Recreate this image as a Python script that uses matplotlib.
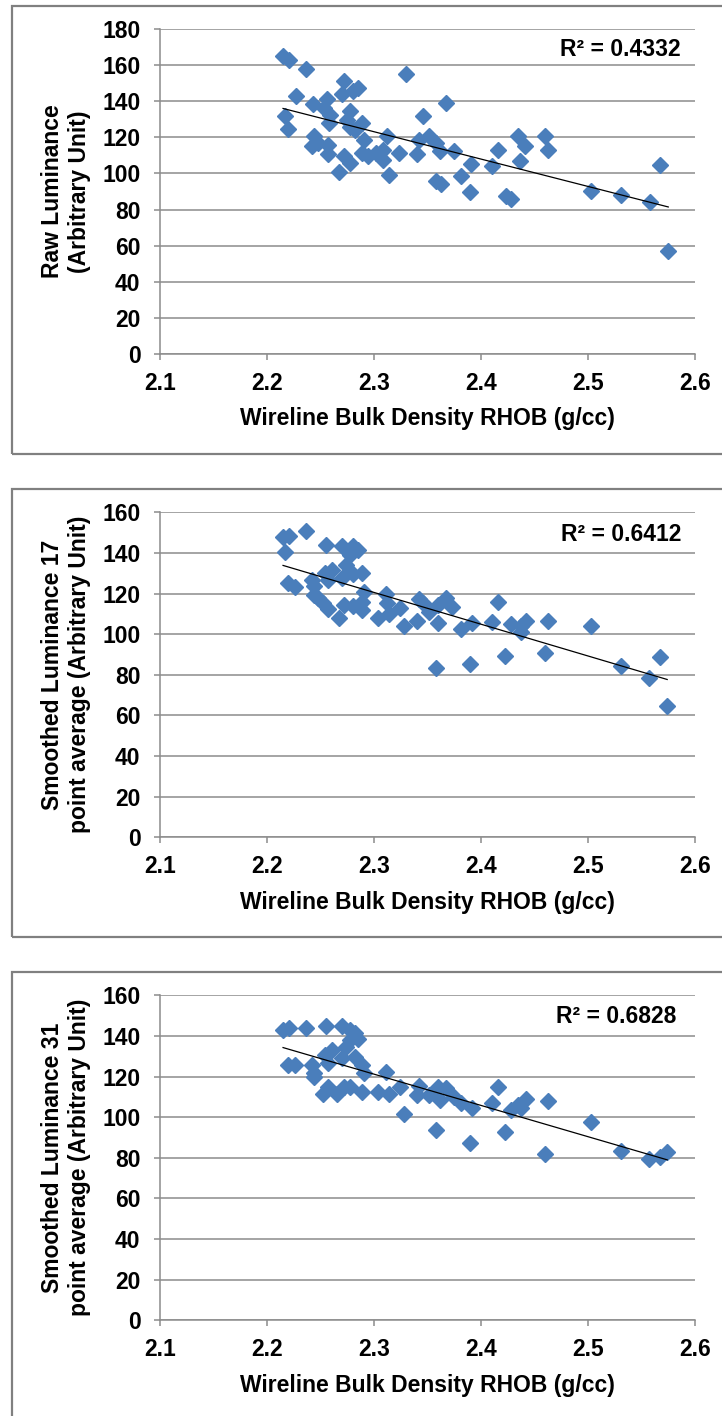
import numpy as np
import matplotlib
matplotlib.use("Agg")
import matplotlib.pyplot as plt
from matplotlib.patches import Rectangle

plt.rcParams['font.family'] = ['Liberation Sans', 'DejaVu Sans']

# ---------------- data ----------------
x_raw = [2.215, 2.221, 2.236, 2.330, 2.272, 2.285, 2.280, 2.270, 2.227, 2.256,
         2.367, 2.243, 2.278, 2.253, 2.217, 2.346, 2.259, 2.258, 2.275, 2.289,
         2.278, 2.220, 2.282, 2.244, 2.312, 2.351, 2.435, 2.460, 2.291, 2.342,
         2.358, 2.248, 2.257, 2.242, 2.441, 2.416, 2.463, 2.308, 2.375, 2.362,
         2.323, 2.289, 2.302, 2.257, 2.340, 2.294, 2.272, 2.308, 2.436, 2.278,
         2.391, 2.410, 2.567, 2.267, 2.314, 2.381, 2.358, 2.363, 2.390, 2.503,
         2.423, 2.428, 2.531, 2.558, 2.575]
y_raw = [165.2, 163.0, 158.0, 155.3, 151.4, 147.3, 145.5, 144.0, 143.1, 141.2,
         139.0, 138.5, 134.8, 136.0, 131.6, 132.0, 132.5, 128.0, 129.8, 128.0,
         125.5, 124.6, 123.9, 120.6, 120.6, 120.6, 120.6, 120.6, 118.3, 118.3,
         116.9, 116.9, 116.0, 115.0, 115.0, 113.2, 113.2, 113.2, 112.2, 112.2,
         111.3, 111.3, 111.3, 111.0, 111.0, 109.5, 109.5, 107.6, 106.7, 105.8,
         105.2, 104.3, 104.5, 100.6, 99.3, 98.4, 96.0, 94.2, 89.5, 90.1,
         87.3, 85.8, 87.9, 84.0, 57.2]

x_s17 = [2.236, 2.215, 2.221, 2.217, 2.255, 2.270, 2.280, 2.285, 2.278, 2.274,
         2.261, 2.254, 2.289, 2.280, 2.270, 2.257, 2.242, 2.244, 2.220, 2.226,
         2.291, 2.311, 2.244, 2.248, 2.342, 2.367, 2.416, 2.289, 2.272, 2.280,
         2.252, 2.312, 2.346, 2.360, 2.373, 2.324, 2.257, 2.289, 2.351, 2.314,
         2.304, 2.267, 2.463, 2.410, 2.442, 2.340, 2.392, 2.360, 2.428, 2.503,
         2.328, 2.437, 2.381, 2.437, 2.460, 2.422, 2.567, 2.390, 2.531, 2.358,
         2.557, 2.574]
y_s17 = [150.8, 148.0, 148.3, 140.3, 143.9, 143.6, 143.6, 141.5, 139.0, 134.0,
         131.6, 130.0, 130.0, 129.5, 127.5, 126.7, 126.7, 123.9, 125.0, 123.4,
         121.0, 120.0, 119.3, 117.7, 117.3, 117.7, 116.0, 116.0, 114.4, 114.0,
         115.2, 115.2, 115.2, 114.4, 113.6, 112.7, 112.4, 111.9, 111.1, 109.8,
         108.1, 107.8, 106.7, 106.2, 106.7, 106.7, 105.4, 105.4, 104.9, 104.2,
         104.0, 104.2, 102.6, 101.2, 90.9, 89.4, 88.6, 85.2, 84.5, 83.2,
         78.6, 64.8]

x_s31 = [2.215, 2.221, 2.236, 2.255, 2.270, 2.278, 2.282, 2.285, 2.278, 2.274,
         2.261, 2.254, 2.270, 2.282, 2.289, 2.257, 2.220, 2.226, 2.242, 2.244,
         2.291, 2.311, 2.244, 2.416, 2.257, 2.272, 2.278, 2.342, 2.360, 2.367,
         2.324, 2.289, 2.304, 2.314, 2.252, 2.265, 2.340, 2.351, 2.362, 2.375,
         2.381, 2.442, 2.463, 2.410, 2.392, 2.428, 2.437, 2.435, 2.503, 2.328,
         2.358, 2.422, 2.390, 2.531, 2.460, 2.557, 2.567, 2.574]
y_s31 = [142.9, 143.7, 143.7, 144.9, 144.9, 142.9, 141.3, 138.3, 138.0, 134.7,
         133.1, 130.6, 129.0, 129.5, 125.7, 126.5, 125.7, 125.7, 125.7, 121.6,
         121.9, 122.4, 120.0, 114.7, 115.0, 115.0, 114.7, 115.4, 115.0, 114.2,
         115.0, 112.6, 112.6, 111.4, 111.4, 111.4, 110.9, 110.9, 108.5, 109.8,
         106.8, 108.8, 108.1, 106.8, 104.4, 103.5, 104.4, 106.0, 97.8, 101.4,
         93.7, 92.5, 87.1, 83.4, 81.7, 79.4, 80.6, 83.0]

ylabels = ["Raw Luminance\n(Arbitrary Unit)",
           "Smoothed Luminance 17\npoint average (Arbitrary Unit)",
           "Smoothed Luminance 31\npoint average (Arbitrary Unit)"]
r2_texts = ["R² = 0.4332", "R² = 0.6412", "R² = 0.6828"]
ymaxes = [180, 160, 160]
x_ticks = [2.1, 2.2, 2.3, 2.4, 2.5, 2.6]

# ---------------- layout ----------------
W, H = 722, 1416
fig = plt.figure(figsize=(W / 100, H / 100), dpi=100)

ax_left, ax_right = 160, 695
ax_tops = [29, 512.3, 995.3]
ax_bottoms = [354, 837.3, 1320.3]
box_tops = [6, 489, 971.7]
box_bottoms = [454.3, 936.7, 1425]
r2_pos = [(0.974, 0.938), (0.974, 0.932), (0.966, 0.934)]

blue = '#4A7EBB'
grid_col = '#8C8C8C'
FS = 16.5

for i, (xs, ys) in enumerate([(x_raw, y_raw), (x_s17, y_s17), (x_s31, y_s31)]):
    # outer box
    fig.patches.append(Rectangle((12 / W, 1 - box_bottoms[i] / H),
                                 (W + 20 - 12) / W, (box_bottoms[i] - box_tops[i]) / H,
                                 transform=fig.transFigure, fill=False,
                                 edgecolor='#808080', linewidth=1.6, zorder=0))
    hpx = ax_bottoms[i] - ax_tops[i]
    ax = fig.add_axes([ax_left / W, 1 - ax_bottoms[i] / H,
                       (ax_right - ax_left) / W, hpx / H])
    ax.set_xlim(2.1, 2.6)
    ax.set_ylim(0, ymaxes[i])
    ax.set_xticks(x_ticks)
    ax.set_xticklabels([f"{t:.1f}" for t in x_ticks])
    ax.set_yticks(np.arange(0, ymaxes[i] + 1, 20))
    ax.yaxis.grid(True, color=grid_col, linewidth=1.1)
    ax.set_axisbelow(True)
    for s in ['top', 'right']:
        ax.spines[s].set_visible(False)
    for s in ['left', 'bottom']:
        ax.spines[s].set_color(grid_col)
        ax.spines[s].set_linewidth(1.1)
    ax.tick_params(axis='both', direction='out', length=4, width=1.1,
                   color=grid_col, labelsize=FS)
    ax.tick_params(axis='x', pad=9)
    ax.tick_params(axis='y', pad=10)
    for lab in ax.get_xticklabels() + ax.get_yticklabels():
        lab.set_fontweight('bold')

    ax.plot(xs, ys, linestyle='none', marker='D', ms=8.3, color=blue,
            markeredgecolor=blue, zorder=3, clip_on=False)

    coef = np.polyfit(xs, ys, 1)
    xx = np.array([min(xs), max(xs)])
    ax.plot(xx, np.polyval(coef, xx), color='black', linewidth=0.9, zorder=4)

    ax.text(r2_pos[i][0], r2_pos[i][1], r2_texts[i], transform=ax.transAxes,
            ha='right', va='center', fontsize=FS, fontweight='bold')

    ax.set_xlabel("Wireline Bulk Density RHOB (g/cc)", fontsize=FS,
                  fontweight='bold', va='center')
    ax.xaxis.set_label_coords(0.5, -65 / hpx)
    ax.set_ylabel(ylabels[i], fontsize=FS, fontweight='bold', linespacing=1.25,
                  va='center', ha='center')
    ax.yaxis.set_label_coords(-(160 - 66) / 535, 0.5)

fig.savefig("out.png", dpi=100)
